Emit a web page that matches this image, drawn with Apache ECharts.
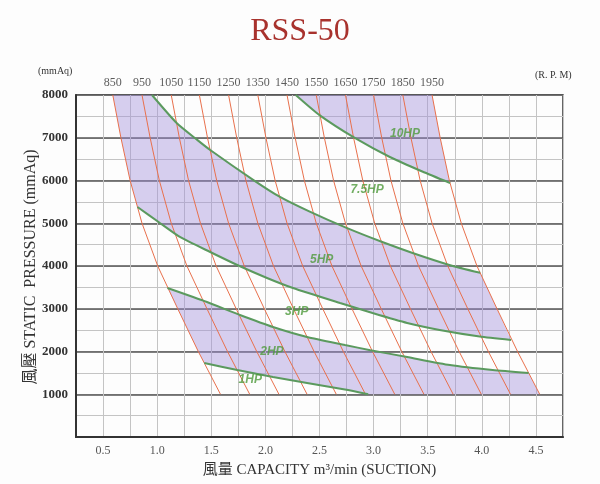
<!DOCTYPE html>
<html><head><meta charset="utf-8">
<script src="https://cdn.jsdelivr.net/npm/echarts@6/dist/echarts.min.js"></script>
<style>html,body{margin:0;padding:0;background:#fdfdfd}#c{width:600px;height:484px}</style>
</head><body><div id="c"></div>
<script>
// ---- data ----
const rpmLabels = ['850','950','1050','1150','1250','1350','1450','1550','1650','1750','1850','1950'];
const rpmPressure = [8000, 7000, 6000, 5000, 4000, 3000, 2000, 1000];
// capacity (m3/min) of each RPM line at the pressures above
const rpmLineX = [
  [0.59, 0.665, 0.75, 0.86, 1.005, 1.19, 1.38, 1.585],
  [0.86, 0.935, 1.02, 1.13, 1.275, 1.46, 1.65, 1.855],
  [1.13, 1.205, 1.29, 1.40, 1.545, 1.73, 1.92, 2.125],
  [1.39, 1.465, 1.55, 1.66, 1.805, 1.99, 2.18, 2.385],
  [1.66, 1.735, 1.82, 1.93, 2.075, 2.26, 2.45, 2.655],
  [1.93, 2.005, 2.09, 2.20, 2.345, 2.53, 2.72, 2.925],
  [2.20, 2.275, 2.36, 2.47, 2.615, 2.80, 2.99, 3.195],
  [2.47, 2.545, 2.63, 2.74, 2.885, 3.07, 3.26, 3.465],
  [2.74, 2.815, 2.90, 3.01, 3.155, 3.34, 3.53, 3.735],
  [3.00, 3.075, 3.16, 3.27, 3.415, 3.60, 3.79, 3.995],
  [3.27, 3.345, 3.43, 3.54, 3.685, 3.87, 4.06, 4.265],
  [3.54, 3.615, 3.70, 3.81, 3.955, 4.14, 4.33, 4.535]
];
// horsepower boundary curves [capacity, pressure]
const curve10HP = [[2.28,8000],[2.50,7530],[2.83,6990],[3.15,6550],[3.45,6210],[3.707,5940]];
const curve7HP = [[0.952,8000],[1.18,7345],[1.37,6950],[1.49,6713],[1.89,6010],[2.135,5615],[2.41,5270],[2.75,4890],[3.08,4560],[3.36,4305],[3.70,4025],[3.985,3840]];
const curve5HP = [[0.818,5380],[1.026,5006],[1.21,4680],[1.49,4327],[1.74,4023],[2.015,3720],[2.255,3485],[2.69,3134],[2.99,2900],[3.31,2667],[3.61,2503],[3.98,2350],[4.27,2269]];
const curve3HP = [[1.095,3485],[1.46,3158],[1.765,2854],[2.07,2573],[2.385,2340],[2.735,2152],[2.97,2030],[3.31,1871],[3.705,1684],[4.10,1567],[4.432,1497]];
const curve1HP = [[1.435,1731],[1.74,1567],[2.07,1403],[2.385,1263],[2.735,1110],[2.95,1000]];
const hpNames = ['10HP','7.5HP','5HP','3HP','2HP','1HP'];
const hpLabelPos = [[3.29,7090],[2.94,5780],[2.52,4140],[2.29,2924],[2.06,1988],[1.86,1333]];
const xTicks = [0.5,1.0,1.5,2.0,2.5,3.0,3.5,4.0,4.5];
const yTicks = [1000,2000,3000,4000,5000,6000,7000,8000];

// ---- helpers ----
function linePts(i){ return rpmPressure.map((p,k)=>[rpmLineX[i][k], p]); }
// vertices of an RPM line strictly between two pressures, ordered from pFrom to pTo
function seg(i, pFrom, pTo){
  const pts = linePts(i).filter(p => p[1] < Math.max(pFrom,pTo) && p[1] > Math.min(pFrom,pTo));
  return pFrom > pTo ? pts : pts.reverse();
}
const first = 0, last = rpmLabels.length - 1;
const band10 = [[curve10HP[0][0],8000],[rpmLineX[last][0],8000]]
  .concat(seg(last,8000,curve10HP[curve10HP.length-1][1]))
  .concat(curve10HP.slice().reverse());
const band5 = [[rpmLineX[first][0],8000]]
  .concat(curve7HP)
  .concat(seg(last,curve7HP[curve7HP.length-1][1],curve5HP[curve5HP.length-1][1]))
  .concat(curve5HP.slice().reverse())
  .concat(seg(first,curve5HP[0][1],8000));
const band2 = curve3HP.slice()
  .concat(seg(last,curve3HP[curve3HP.length-1][1],1000))
  .concat([[rpmLineX[last][7],1000]])
  .concat(curve1HP.slice().reverse())
  .concat(seg(first,curve1HP[0][1],curve3HP[0][1]));
const bands = [band10, band5, band2];

const serif = "'Liberation Serif','DejaVu Serif','Noto Sans CJK TC',serif";
const chart = echarts.init(document.getElementById('c'));
const series = [];
series.push({
  type:'custom', xAxisIndex:0, yAxisIndex:0, z:2,
  data: bands.map((b,i)=>[i]),
  renderItem:(params, api)=>({
    type:'polygon',
    shape:{points: bands[params.dataIndex].map(p=>api.coord(p))},
    style:{fill:'rgba(160,140,218,0.42)', stroke:'none'}
  })
});
rpmLabels.forEach((r,i)=>{
  series.push({type:'line', data:linePts(i), symbol:'none', z:3, silent:true,
    lineStyle:{color:'#e8704c', width:1}});
});
[curve10HP, curve7HP, curve5HP, curve3HP, curve1HP].forEach(c=>{
  series.push({type:'line', data:c, symbol:'none', z:4, silent:true, smooth:0.2,
    lineStyle:{color:'#5b9a5e', width:2}});
});
series.push({type:'scatter', z:5, symbolSize:1, itemStyle:{color:'rgba(0,0,0,0)'}, silent:true,
  data: rpmLabels.map((r,i)=>({value:[rpmLineX[i][0],8000], name:r})),
  label:{show:true, position:'top', distance:6, formatter:p=>p.name, fontFamily:serif, fontSize:12, color:'#333'}
});
series.push({type:'scatter', z:6, symbolSize:1, itemStyle:{color:'rgba(0,0,0,0)'}, silent:true,
  data: hpNames.map((n,i)=>({value:hpLabelPos[i], name:n})),
  label:{show:true, position:'inside', formatter:p=>p.name, fontFamily:"'Liberation Sans',Arial,sans-serif",
    fontSize:12, fontStyle:'italic', fontWeight:'bold', color:'#4f9a3c'}
});

chart.setOption({
  backgroundColor:'#fdfdfd',
  animation:false,
  title:{text:'RSS-50', left:'center', top:11,
    textStyle:{fontFamily:serif, fontSize:32, fontWeight:'normal', color:'#a8322d'}},
  graphic:[
    {type:'text', left:38, top:66, style:{text:'(mmAq)', font:"10px "+serif, fill:'#333'}},
    {type:'text', left:535, top:70, style:{text:'(R. P. M)', font:"10px "+serif, fill:'#333'}},
    {type:'text', x:31, y:267, rotation:Math.PI/2,
      style:{text:'風壓 STATIC  PRESSURE (mmAq)', font:"16px "+serif, fill:'#333', align:'center', verticalAlign:'middle'}}
  ],
  grid:{left:76, right:37, top:95, bottom:47, show:true, borderColor:'#333', borderWidth:1.5, backgroundColor:'transparent'},
  xAxis:{type:'value', min:0.25, max:4.75, interval:0.25,
    name:'風量 CAPACITY m³/min (SUCTION)', nameLocation:'middle', nameGap:26,
    nameTextStyle:{fontFamily:serif, fontSize:15, color:'#333'},
    axisLine:{show:true, lineStyle:{color:'#333', width:2}}, axisTick:{show:false},
    axisLabel:{margin:8, fontFamily:serif, fontSize:12, color:'#555',
      formatter:v=>{ const t = xTicks.find(x=>Math.abs(x-v)<1e-6); return t===undefined?'':t.toFixed(1);} },
    splitLine:{show:true, lineStyle:{color:'#c4c4c4', width:1}}
  },
  yAxis:[
    {type:'value', min:0, max:8000, interval:500,
      axisLine:{show:true, lineStyle:{color:'#333', width:2}}, axisTick:{show:false},
      axisLabel:{margin:8, fontFamily:serif, fontSize:13, fontWeight:'bold', color:'#333',
        formatter:v=> yTicks.indexOf(v)>=0 ? String(v) : ''},
      splitLine:{show:true, lineStyle:{color:'#c4c4c4', width:1}}
    },
    {type:'value', min:0, max:8000, interval:1000, position:'right',
      axisLine:{show:false}, axisTick:{show:false}, axisLabel:{show:false},
      splitLine:{show:true, lineStyle:{color:'#555', width:1.5}}
    }
  ],
  series: series
});
</script></body></html>
